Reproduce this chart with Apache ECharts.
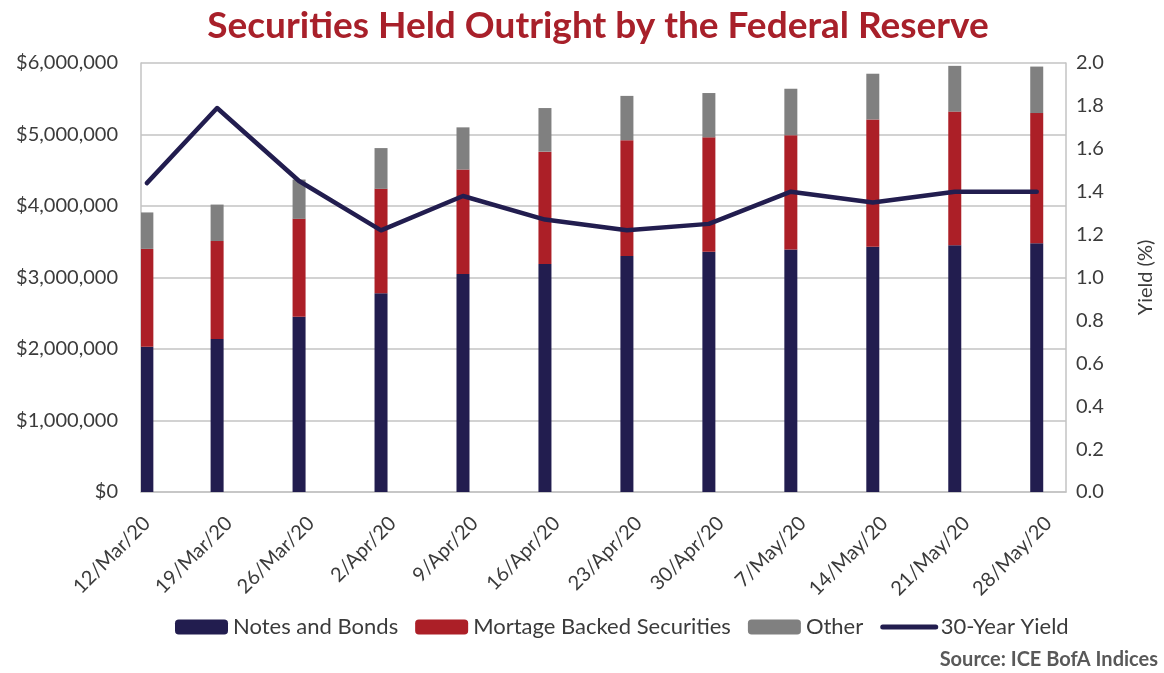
<!DOCTYPE html>
<html>
<head>
<meta charset="utf-8">
<script src="https://cdn.jsdelivr.net/npm/echarts@6/dist/echarts.min.js"></script>
<style>
html,body{margin:0;padding:0;background:#fff;}
#chart{width:1164px;height:673px;}
</style>
</head>
<body>
<div id="chart"></div>
<script>
// ---- data ----
const barDates = ['2020-03-12','2020-03-18','2020-03-25','2020-04-01','2020-04-08','2020-04-15',
                  '2020-04-22','2020-04-29','2020-05-06','2020-05-13','2020-05-20','2020-05-27'];
const notesAndBonds = [2030000,2140000,2450000,2780000,3050000,3190000,3300000,3360000,3390000,3430000,3450000,3480000];
const mortgageBacked = [1370000,1370000,1370000,1460000,1460000,1570000,1620000,1600000,1600000,1780000,1870000,1820000];
const other = [510000,510000,550000,570000,590000,610000,620000,620000,650000,640000,640000,650000];
const yield30 = [1.44,1.79,1.45,1.22,1.38,1.27,1.22,1.25,1.40,1.35,1.40,1.40];
const tickDates = ['2020-03-12','2020-03-19','2020-03-26','2020-04-02','2020-04-09','2020-04-16',
                   '2020-04-23','2020-04-30','2020-05-07','2020-05-14','2020-05-21','2020-05-28'];
const tickLabels = ['12/Mar/20','19/Mar/20','26/Mar/20','2/Apr/20','9/Apr/20','16/Apr/20',
                    '23/Apr/20','30/Apr/20','7/May/20','14/May/20','21/May/20','28/May/20'];
const seriesNames = ['Notes and Bonds','Mortage Backed Securities','Other','30-Year Yield'];
const axisStart = '2020-03-12', axisEnd = '2020-05-29';

// ---- build a daily date axis (like a spreadsheet date axis) ----
const DAY = 86400000;
function utc(s){ const p=s.split('-').map(Number); return Date.UTC(p[0],p[1]-1,p[2]); }
const t0 = utc(axisStart);
const nDays = (utc(axisEnd)-t0)/DAY + 1;
const dayCats = Array.from({length:nDays}, (_,i)=>String(i));
const dayOf = s => (utc(s)-t0)/DAY;
const labelMap = {}; tickDates.forEach((d,i)=>labelMap[dayOf(d)] = tickLabels[i]);
function onDays(arr){
  const out = new Array(nDays).fill(null);
  barDates.forEach((d,i)=>{ out[dayOf(d)] = arr[i]; });
  return out;
}

const FONT = 'Lato';
const TXT = '#3b3b3b';
const GRID = '#C3C3C3';
const NAVY = '#221D4F';

const chart = echarts.init(document.getElementById('chart'), null, {renderer:'canvas'});
chart.setOption({
  animation:false,
  backgroundColor:'#ffffff',
  title:{
    text:'Securities Held Outright by the Federal Reserve',
    left:593, top:3, textAlign:'center',
    textStyle:{color:'#A8202A', fontFamily:FONT, fontWeight:'bold', fontSize:37}
  },
  legend:{
    left:170, top:611, itemWidth:53, itemHeight:15, itemGap:17,
    data:[seriesNames[0], seriesNames[1], seriesNames[2],
          {name:seriesNames[3],
           itemStyle:{color:'rgba(0,0,0,0)', borderColor:'rgba(0,0,0,0)', borderWidth:0},
           lineStyle:{color:NAVY, width:5, cap:'round'}}],
    textStyle:{color:TXT, fontFamily:FONT, fontSize:22}
  },
  graphic:[{
    type:'text', right:6, top:650,
    style:{text:'Source: ICE BofA Indices', fill:'#595959', font:'bold 20px Lato'}
  }],
  grid:{left:141, right:98, top:63, bottom:181},
  xAxis:{
    type:'category', data:dayCats, boundaryGap:true,
    axisLine:{show:true, lineStyle:{color:GRID, width:1.5}},
    axisTick:{show:false},
    splitLine:{show:false},
    axisLabel:{
      interval:(idx)=>labelMap[idx]!==undefined, rotate:45, margin:28,
      color:TXT, fontFamily:FONT, fontSize:20,
      formatter:(v,idx)=>labelMap[idx] || ''
    }
  },
  yAxis:[{
    type:'value', min:0, max:6000000, interval:1000000,
    axisLine:{show:true, lineStyle:{color:GRID, width:1.5}},
    axisTick:{show:false},
    splitLine:{show:true, lineStyle:{color:GRID, width:1.5}},
    axisLabel:{margin:23, color:TXT, fontFamily:FONT, fontSize:20,
      formatter:v=>'$'+v.toLocaleString('en-US')}
  },{
    type:'value', min:0, max:2, interval:0.2,
    name:'Yield (%)', nameLocation:'middle', nameRotate:90, nameGap:70,
    nameTextStyle:{color:TXT, fontFamily:FONT, fontSize:20},
    axisLine:{show:true, lineStyle:{color:GRID, width:1.5}},
    axisTick:{show:false},
    splitLine:{show:false},
    axisLabel:{margin:10, color:TXT, fontFamily:FONT, fontSize:20,
      formatter:v=>v.toFixed(1)}
  }],
  series:[
    {name:seriesNames[0], type:'bar', stack:'s', barWidth:13, data:onDays(notesAndBonds),
     itemStyle:{color:NAVY}},
    {name:seriesNames[1], type:'bar', stack:'s', barWidth:13, data:onDays(mortgageBacked),
     itemStyle:{color:'#AC1F27'}},
    {name:seriesNames[2], type:'bar', stack:'s', barWidth:13, data:onDays(other),
     itemStyle:{color:'#808080'}},
    {name:seriesNames[3], type:'line', yAxisIndex:1, data:onDays(yield30), connectNulls:true,
     symbol:'none', lineStyle:{color:NAVY, width:4.5, cap:'round', join:'round'},
     itemStyle:{color:NAVY}, z:5}
  ]
});
</script>
</body>
</html>
